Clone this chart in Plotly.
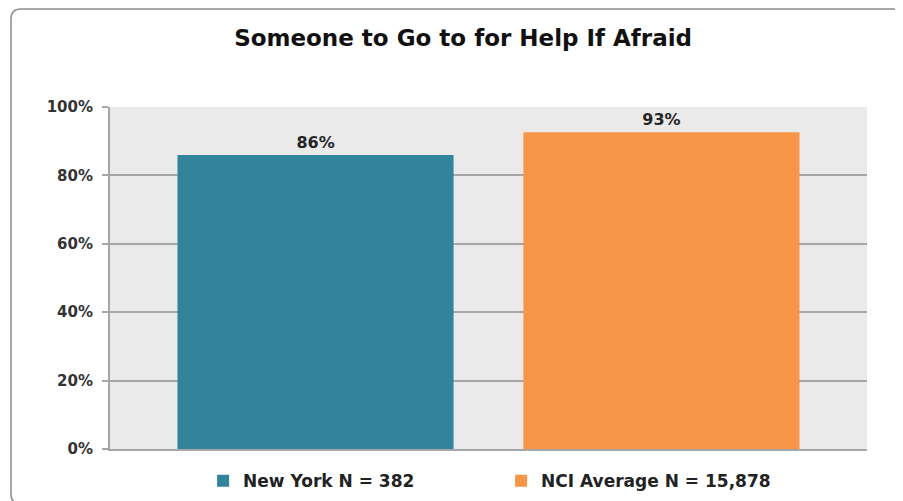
"""
Someone to Go to for Help If Afraid: New York vs. NCI average (grouped bar).
"""
import plotly.graph_objects as go

TEAL = '#31849B'
ORANGE = '#F79646'
GRID = '#A6A6A6'
FONT = 'DejaVu Sans'

categories = ['']
series_names = ['New York N = 382', 'NCI Average N = 15,878']
series_values = [[0.86], [0.926]]
series_colors = [TEAL, ORANGE]
tick_vals = [0, 0.2, 0.4, 0.6, 0.8, 1.0]

fig = go.Figure()
for name, vals, color in zip(series_names, series_values, series_colors):
    fig.add_trace(go.Bar(
        x=categories, y=vals,
        name=name,
        marker=dict(color=color, line=dict(width=0)),
        texttemplate='%{y:.0%}',
        textposition='outside',
        textfont=dict(family=FONT, size=16, color='#262626', weight='bold'),
        cliponaxis=False,
    ))

# rounded chart border, open on the right (paper coords, outside plot area)
x0, x1, yt, yb = -0.1308, 1.0608, 1.2865, -0.1608
dx, dy = 0.0132, 0.0292
fig.add_shape(
    type='path', xref='paper', yref='paper',
    path=(f'M {x1},{yt} L {x0 + dx},{yt} Q {x0},{yt} {x0},{yt - dy} '
          f'L {x0},{yb + dy} Q {x0},{yb} {x0 + dx},{yb} L {x1},{yb}'),
    line=dict(color='#8C8C8C', width=1.5),
    layer='below',
)

fig.update_layout(
    title=dict(
        text='<b>Someone to Go to for Help If Afraid</b>',
        font=dict(family=FONT, size=23, color='#111111'),
        x=0.504, xanchor='center', xref='container',
        y=0.94, yanchor='middle',
    ),
    barmode='group',
    bargap=0.086,
    bargroupgap=0.202,
    plot_bgcolor='#EAEAEA',
    paper_bgcolor='white',
    xaxis=dict(
        showticklabels=False,
        showline=True, linecolor=GRID, linewidth=2,
        showgrid=False, ticks='',
    ),
    yaxis=dict(
        range=[0, 1],
        tickvals=tick_vals,
        tickformat='.0%',
        tickfont=dict(family=FONT, size=15, color='#333333', weight='bold'),
        ticklabelstandoff=6,
        showgrid=True, gridcolor=GRID, gridwidth=2,
        showline=True, linecolor=GRID, linewidth=2,
        ticks='outside', ticklen=6, tickcolor=GRID, tickwidth=2,
        zeroline=False,
    ),
    legend=dict(
        orientation='h',
        x=0.123, xanchor='left',
        y=-0.094, yanchor='middle',
        font=dict(family=FONT, size=17, color='#222222', weight='bold'),
        itemwidth=30,
        entrywidth=253,
        traceorder='normal',
    ),
    showlegend=True,
    margin=dict(t=99, b=60, l=102, r=44, autoexpand=False),
    width=903, height=501,
)

fig.write_html('out.html')
